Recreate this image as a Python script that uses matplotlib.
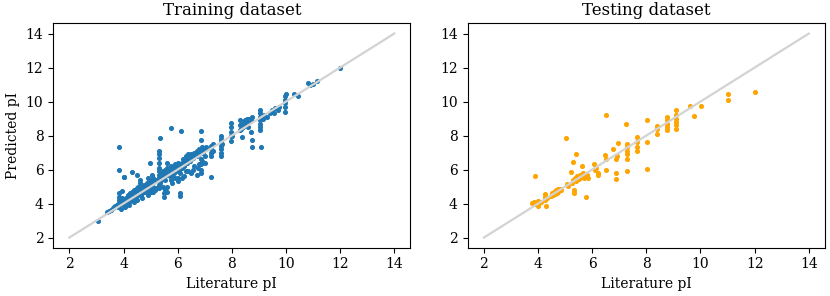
import numpy as np
import matplotlib
matplotlib.use("Agg")
import matplotlib.pyplot as plt

plt.rcParams['font.family'] = 'DejaVu Serif'

# training set: literature pI vs predicted pI
train_x = [3.05, 3.4, 3.45, 3.55, 3.6, 3.65, 3.7, 3.75, 3.8, 3.8, 3.85, 3.85, 3.85, 3.85, 3.85, 3.9, 3.9, 3.95, 3.95, 3.85, 3.85, 4.0,
           4.0, 4.0, 4.05, 4.1, 4.1, 4.15, 4.15, 4.2, 4.2, 4.25, 4.25, 4.3, 4.3, 4.3, 4.35, 4.4, 4.4, 4.45, 4.5, 4.5, 4.55, 4.55, 4.6, 4.3, 4.5,
           4.65, 4.65, 4.7, 4.7, 4.75, 4.75, 4.8, 4.8, 4.85, 4.85, 4.9, 4.9, 4.95, 4.95, 5.0, 5.0, 5.0, 5.05, 5.05, 5.1, 5.1, 5.15, 5.15, 5.2, 4.98, 5.05,
           5.3, 5.3, 5.3, 5.3, 5.3, 5.3, 5.3, 5.3, 5.3, 5.3, 5.3, 5.35, 5.35, 5.35, 5.4, 5.4, 5.45, 5.45, 5.5, 5.5, 5.5, 5.5, 5.55, 5.55, 5.6, 5.6, 5.6, 5.65, 5.7, 5.7, 5.74,
           5.75, 5.75, 5.8, 5.8, 5.85, 5.85, 5.9, 5.9, 5.95, 5.95, 6.0, 6.0, 6.0, 6.05, 6.05, 6.1, 6.1, 6.1, 6.1, 6.11, 6.15, 6.15, 6.2, 6.2, 6.25, 6.25, 6.3, 6.3,
           6.35, 6.4, 6.4, 6.45, 6.45, 6.5, 6.5, 6.55, 6.6, 6.6, 6.65, 6.7, 6.7, 6.75, 6.8, 6.8, 6.85, 6.85, 6.85, 6.85, 6.85, 6.86, 6.86, 6.9, 6.9, 6.95, 7.0, 7.0, 7.05,
           7.23, 7.25, 7.25, 7.25, 7.25, 7.3, 7.3, 7.6, 7.6, 7.6, 7.6, 7.6, 7.6, 7.6, 7.65,
           7.97, 7.97, 7.97, 7.97, 7.97, 8.0, 8.3, 8.3, 8.3, 8.35, 8.37, 8.4, 8.4, 8.45, 8.5, 8.5, 8.55, 8.55, 8.6, 8.6, 8.65, 8.7, 8.7, 8.74, 8.74, 8.75,
           9.04, 9.04, 9.04, 9.04, 9.04, 9.04, 9.04, 9.08, 9.15, 9.2, 9.3, 9.4, 9.5, 9.55, 9.6, 9.7, 9.75,
           9.97, 9.97, 9.97, 9.97, 9.97, 10.0, 10.28, 10.46, 10.83, 10.9, 11.0, 11.14, 12.0,
           6.5, 6.55, 6.6, 6.7, 6.75, 6.4, 6.25, 6.3, 6.15, 6.0, 5.9, 5.75, 5.8, 5.6, 5.55, 5.45, 5.2, 5.1, 4.9, 4.7, 4.5, 4.4, 4.2, 4.05, 3.9,
           6.8, 6.9, 7.0, 4.62, 4.0, 3.95, 4.6, 4.9, 5.6]
train_y = [3.0, 3.5, 3.55, 3.65, 3.75, 3.8, 3.85, 3.9, 3.8, 3.95, 4.0, 4.2, 4.4, 4.6, 3.9, 4.0, 4.1, 3.95, 4.3, 7.35, 5.95, 5.56,
           4.0, 4.2, 4.1, 4.3, 4.0, 4.2, 4.5, 4.4, 4.1, 4.6, 4.3, 4.5, 4.7, 4.2, 4.4, 4.6, 4.8, 4.4, 4.7, 4.9, 4.5, 5.0, 4.7, 5.86, 5.66,
           4.8, 4.5, 5.0, 4.6, 4.8, 5.1, 5.0, 4.7, 5.2, 4.9, 5.0, 4.6, 5.3, 4.8, 5.1, 5.4, 4.7, 5.2, 4.9, 5.5, 5.0, 5.3, 4.8, 5.4, 6.37, 5.7,
           4.9, 5.1, 5.3, 5.5, 5.7, 5.9, 6.1, 6.4, 6.7, 6.9, 7.1, 7.88, 5.2, 5.6, 5.4, 5.7, 5.5, 5.9, 4.4, 4.6, 5.6, 5.8, 6.0, 5.4, 5.7, 6.1, 6.4, 5.8, 5.6, 6.0, 8.45,
           5.9, 6.2, 5.7, 6.0, 6.1, 5.8, 6.0, 6.3, 5.9, 6.2, 6.1, 5.5, 6.4, 6.0, 6.3, 6.2, 5.8, 4.6, 4.45, 8.29, 6.4, 6.1, 6.3, 6.6, 6.4, 6.2, 6.5, 6.8,
           6.4, 6.6, 6.9, 6.5, 6.8, 6.6, 6.9, 6.7, 6.8, 7.0, 6.9, 6.8, 7.1, 7.0, 6.9, 7.2, 7.0, 5.8, 6.0, 6.3, 6.6, 8.29, 7.73, 7.1, 7.3, 7.0, 7.2, 6.8, 7.3,
           5.56, 6.8, 7.0, 7.2, 7.4, 7.1, 7.5, 6.8, 7.0, 7.2, 7.4, 7.6, 7.8, 8.0, 7.5,
           8.75, 8.5, 8.2, 7.95, 7.7, 8.0, 8.3, 8.6, 8.9, 8.4, 7.92, 8.7, 8.5, 8.8, 8.6, 8.9, 8.7, 9.0, 8.8, 8.5, 9.0, 8.9, 8.2, 7.72, 7.33, 9.1,
           8.3, 8.5, 8.7, 8.9, 9.1, 9.3, 9.5, 7.33, 9.0, 9.2, 9.1, 9.3, 9.5, 9.3, 9.6, 9.5, 9.7,
           9.4, 9.7, 9.9, 10.1, 10.3, 10.47, 10.45, 10.31, 11.1, 11.0, 11.06, 11.2, 11.95,
           5.8, 6.0, 6.2, 5.7, 6.1, 5.9, 5.6, 5.9, 5.5, 5.3, 5.5, 5.4, 5.2, 5.0, 4.8, 5.0, 4.9, 4.7, 4.5, 4.3, 4.2, 4.1, 3.9, 3.8, 3.7,
           6.3, 6.5, 6.4, 5.36, 5.56, 4.75, 5.2, 5.5, 4.68]

# testing set
test_x = [3.79, 3.85, 3.9, 3.95, 4.0, 4.0, 4.05, 4.1, 4.26, 4.26, 4.26, 4.28, 4.32, 3.88,
          4.47, 4.52, 4.55, 4.6, 4.62, 4.65, 4.7, 4.72, 4.75, 4.8, 4.84,
          5.02, 5.06, 5.1, 5.21, 5.28, 5.4, 5.27, 5.3, 5.35, 5.4, 5.45, 5.5, 5.55, 5.6, 5.65, 5.7, 5.75, 5.8, 5.83, 5.33, 5.33, 5.77, 5.62,
          6.07, 6.1, 6.15, 6.2, 6.2, 6.5, 6.47, 6.5, 6.5, 6.78, 6.88, 6.88, 6.88, 6.9, 6.94,
          7.25, 7.27, 7.27, 7.27, 7.27, 7.27, 7.27, 7.64, 7.64, 7.64, 7.64, 8.01, 8.01, 8.01,
          8.38, 8.38, 8.38, 8.77, 8.77, 8.77, 8.77, 8.77, 9.11, 9.11, 9.11, 9.11, 9.11, 9.11,
          9.6, 9.75, 10.02, 11.01, 11.01, 12.0]
test_y = [4.04, 4.1, 3.95, 4.0, 4.16, 3.88, 4.05, 4.1, 4.55, 4.4, 4.2, 3.88, 4.3, 5.61,
          4.45, 4.6, 4.5, 4.7, 4.55, 4.8, 4.65, 4.85, 4.7, 4.88, 4.8,
          7.88, 5.18, 5.05, 5.86, 6.45, 6.94, 5.2, 5.4, 5.5, 5.35, 5.6, 5.45, 5.7, 5.55, 5.8, 5.5, 5.6, 5.7, 5.5, 4.78, 4.63, 4.39, 6.2,
          6.3, 6.0, 6.1, 5.8, 5.67, 9.2, 6.84, 6.6, 5.96, 7.2, 5.8, 5.45, 6.65, 6.8, 7.57,
          8.7, 7.53, 7.3, 7.1, 6.9, 6.65, 5.92, 7.92, 7.6, 7.35, 7.1, 8.94, 7.63, 6.04,
          8.59, 8.41, 8.12, 9.1, 8.9, 8.7, 8.5, 8.31, 9.53, 9.2, 9.0, 8.8, 8.6, 8.41,
          9.73, 9.14, 9.73, 10.47, 10.08, 10.55]

diag = [2, 14]

fig, (ax1, ax2) = plt.subplots(1, 2, figsize=(8.3, 2.96), dpi=100)
fig.subplots_adjust(left=0.064, right=0.994, bottom=0.163, top=0.921, wspace=0.16)

ax1.scatter(train_x, train_y, s=7, color='#1f77b4')
ax1.plot(diag, diag, color='lightgray', lw=1.6)
ax1.set_title('Training dataset', fontsize=12)
ax1.set_xlabel('Literature pI', fontsize=10)
ax1.set_ylabel('Predicted pI', fontsize=10)

ax2.scatter(test_x, test_y, s=7, color='orange')
ax2.plot(diag, diag, color='lightgray', lw=1.6)
ax2.set_title('Testing dataset', fontsize=12)
ax2.set_xlabel('Literature pI', fontsize=10)

for ax in (ax1, ax2):
    ax.set_xticks([2, 4, 6, 8, 10, 12, 14])
    ax.set_yticks([2, 4, 6, 8, 10, 12, 14])
    ax.tick_params(labelsize=10)

plt.savefig('out.png')
